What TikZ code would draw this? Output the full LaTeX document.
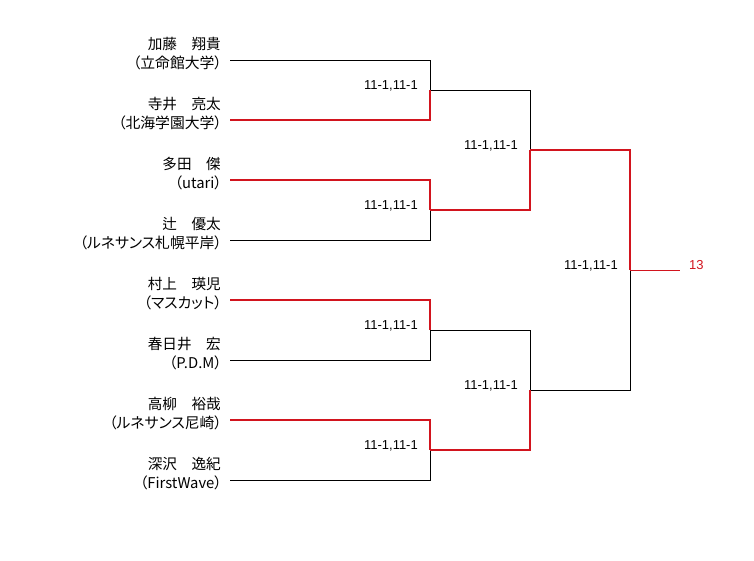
\documentclass[tikz,border=0pt]{standalone}
\usepackage{fontspec}
\setmainfont{Noto Sans CJK JP}
\newfontfamily\affilfont[CharacterWidth=AlternateProportional]{Noto Sans CJK JP}
\newfontfamily\latinsans{Liberation Sans}
\definecolor{winred}{RGB}{210,20,30}
\tikzset{
  namelbl/.style={anchor=east,inner sep=0pt,font=\fontsize{14.6}{17}\selectfont,text height=0.88em,text depth=0.12em},
  affillbl/.style={anchor=east,inner sep=0pt,font=\affilfont\fontsize{14.8}{17}\selectfont,text height=0.88em,text depth=0.12em},
  scorelbl/.style={anchor=east,inner sep=0pt,text height=9.3pt,text depth=0pt,font=\latinsans\fontsize{13}{15}\selectfont},
  lose/.style={draw=black,line width=1pt},
  win/.style={draw=winred,line width=2pt},
  champ/.style={draw=winred,line width=1pt},
}
\begin{document}
\begin{tikzpicture}[x=1pt,y=-1pt]
\useasboundingbox (0,0) rectangle (754,560);
% players
\foreach \i/\nm/\tm [evaluate=\i as \yy using 60*\i] in {
  1/加藤　翔貴/（立命館大学）,
  2/寺井　亮太/（北海学園大学）,
  3/多田　傑/（utari）,
  4/辻　優太/（ルネサンス札幌平岸）,
  5/村上　瑛児/（マスカット）,
  6/春日井　宏/（P.D.M）,
  7/高柳　裕哉/（ルネサンス尼崎）,
  8/深沢　逸紀/（FirstWave）}{
  \node[namelbl] (n\i) at (221,\yy-14) {\nm};
  \node[affillbl] (t\i) at (222,\yy+4.5) {\tm};
  \coordinate (l\i) at (230,\yy);
}
% junctions
\coordinate (m1) at (430,90);
\coordinate (m2) at (430,210);
\coordinate (m3) at (430,330);
\coordinate (m4) at (430,450);
\coordinate (s1) at (530,150);
\coordinate (s2) at (530,390);
\coordinate (w) at (630,270);
\coordinate (c) at (680,270);
% losers (black)
\draw[lose] (l1) -| (m1);
\draw[lose] (l4) -| (m2);
\draw[lose] (l6) -| (m3);
\draw[lose] (l8) -| (m4);
\draw[lose] (m1) -| (s1);
\draw[lose] (m3) -| (s2);
\draw[lose] (s2) -| (w);
% winners (red)
\draw[win] (l2) -| (m1);
\draw[win] (l3) -| (m2);
\draw[win] (l5) -| (m3);
\draw[win] (l7) -| (m4);
\draw[win] (m2) -| (s1);
\draw[win] (m4) -| (s2);
\draw[win] (s1) -| (w);
\draw[champ] (w) -- (c);
% scores
\node[scorelbl] (r1) at (418,85) {11-1,11-1};
\node[scorelbl] (r2) at (418,205) {11-1,11-1};
\node[scorelbl] (r3) at (418,325) {11-1,11-1};
\node[scorelbl] (r4) at (418,445) {11-1,11-1};
\node[scorelbl] (q1) at (518,145) {11-1,11-1};
\node[scorelbl] (q2) at (518,385) {11-1,11-1};
\node[scorelbl] (f1) at (618,265) {11-1,11-1};
\node[scorelbl,anchor=west,text=winred] (win) at (689,265) {13};
\end{tikzpicture}
\end{document}
